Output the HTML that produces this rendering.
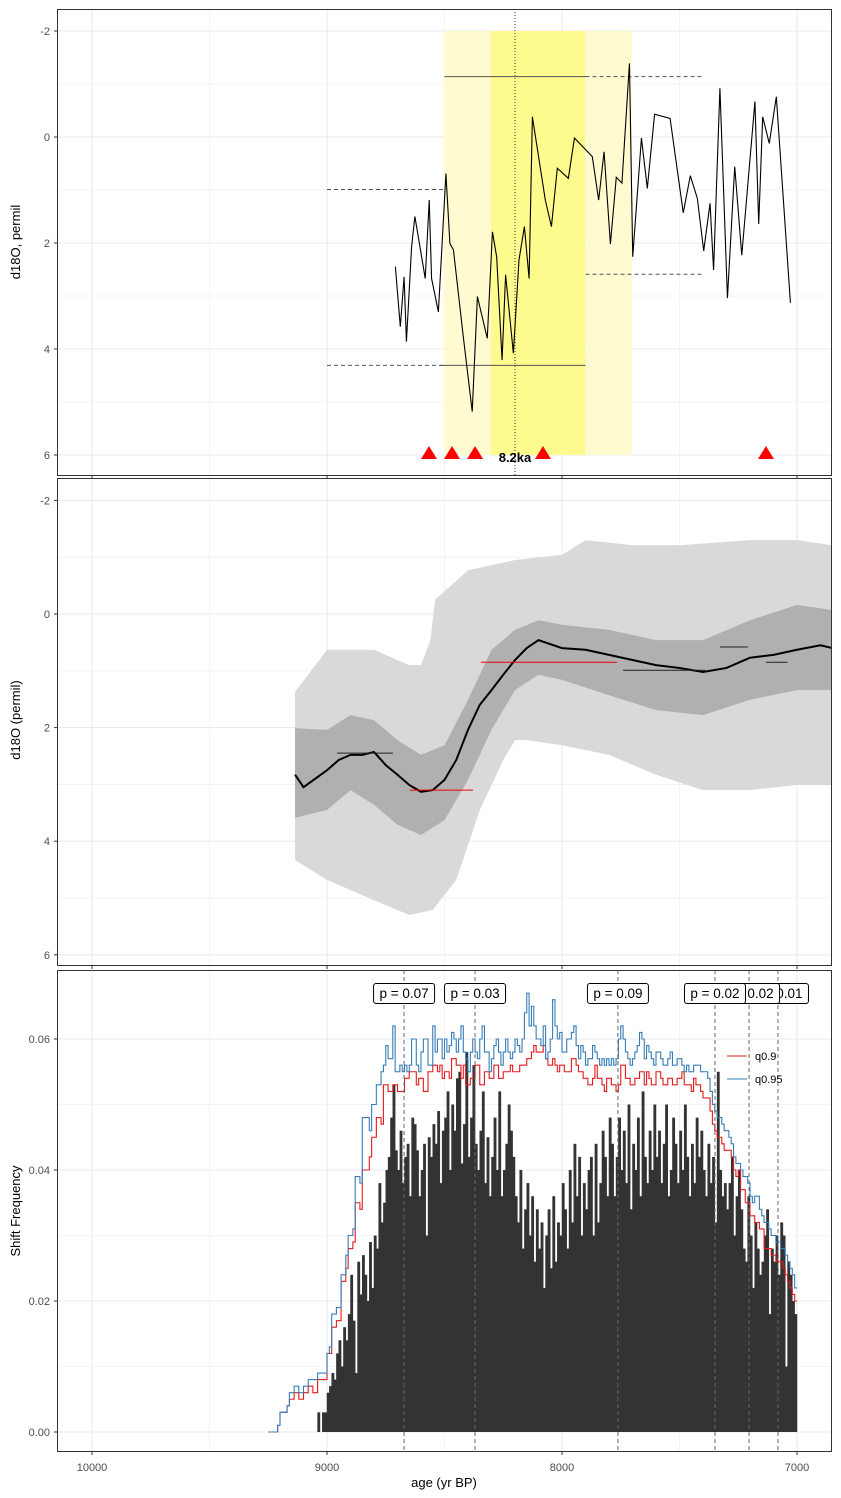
<!DOCTYPE html>
<html><head><meta charset="utf-8">
<style>
body{margin:0;background:#fff;}
svg{display:block;font-family:"Liberation Sans",sans-serif;}
</style></head>
<body>
<svg id="chart" width="841" height="1498" viewBox="0 0 841 1498" xmlns="http://www.w3.org/2000/svg"></svg>
<script>
// ---------- Panel 1 data ----------
const p1Ages = [8709,8688,8672,8662,8640,8626,8582,8565,8555,8526,8494,8477,8462,8420,8382,8360,8318,8296,8278,8255,8240,8207,8183,8160,8140,8126,8071,8045,8020,7973,7947,7871,7844,7821,7794,7769,7745,7713,7699,7662,7637,7606,7540,7484,7454,7424,7397,7370,7355,7328,7296,7265,7235,7179,7163,7146,7118,7088,7028];
const p1Values = [2.45,3.58,2.64,3.86,2.07,1.50,2.67,1.19,2.67,3.30,0.69,2.01,2.13,3.77,5.18,3.01,3.80,1.79,2.26,4.21,2.60,4.08,2.32,1.69,2.67,-0.38,1.19,1.69,0.59,0.78,0.02,0.37,1.19,0.28,2.02,0.76,0.87,-1.39,2.26,0.02,0.97,-0.43,-0.35,1.43,0.73,1.16,2.15,1.25,2.51,-0.92,3.04,0.56,2.23,-0.67,1.64,-0.38,0.12,-0.76,3.13];
const p1EventAges = [8566,8468,8370,8081,7132];
const p1Segments = [
 [9000,8500,0.99,false],[8500,7900,-1.14,true],[7900,7405,-1.14,false],
 [9000,8500,4.31,false],[8519,7900,4.31,true],[7900,7405,2.59,false]];
const p1YTicks = [-2,0,2,4,6];

// ---------- Panel 2 data ----------
const p2OuterAges = [9136,9000,8800,8650,8600,8560,8540,8400,8200,8000,7900,7700,7500,7200,7000,6850];
const p2OuterHi = [1.37,0.63,0.63,0.90,0.90,0.46,-0.25,-0.77,-0.95,-1.04,-1.30,-1.21,-1.21,-1.30,-1.30,-1.21];
const p2OuterLoAges = [9136,9000,8800,8650,8550,8450,8350,8250,8200,8150,8000,7800,7600,7400,7200,7000,6850];
const p2OuterLo = [4.33,4.68,5.04,5.30,5.21,4.68,3.45,2.57,2.22,2.22,2.31,2.48,2.83,3.10,3.10,3.01,3.01];
const p2InnerAges = [9136,9000,8900,8800,8700,8600,8500,8400,8300,8200,8100,8000,7800,7600,7400,7200,7000,6850];
const p2InnerHi = [2.01,2.04,1.78,1.87,2.22,2.48,2.31,1.51,0.63,0.28,0.11,0.19,0.28,0.46,0.46,0.11,-0.16,-0.07];
const p2InnerLo = [3.59,3.45,3.10,3.36,3.71,3.89,3.63,2.92,2.04,1.34,1.07,1.16,1.43,1.69,1.78,1.51,1.34,1.34];
const p2LineAges = [9136,9100,9000,8950,8900,8850,8800,8750,8700,8650,8600,8550,8500,8450,8400,8350,8300,8250,8200,8150,8100,8000,7900,7800,7700,7600,7500,7400,7300,7200,7100,7000,6900,6850];
const p2LineVals = [2.83,3.05,2.75,2.57,2.48,2.48,2.43,2.66,2.83,3.01,3.13,3.10,2.92,2.57,2.04,1.60,1.34,1.07,0.81,0.60,0.46,0.60,0.63,0.72,0.81,0.90,0.95,1.02,0.95,0.77,0.72,0.63,0.55,0.60];
const p2Segments = [[8957,8719,2.45,'#222'],[8647,8379,3.10,'#e00'],[8345,7766,0.85,'#e00'],[7740,7391,0.99,'#222'],[7328,7209,0.58,'#222'],[7132,7040,0.85,'#222']];

// ---------- Panel 3 data (10-yr bins from 9250 to 7000, thousandths) ----------
const binStart = 9250;
const barFreq = [0,0,0,0,0,0,0,0,0,0,0,0,0,0,0,0,0,0,0,0,0,3,0,3,3,
6,7,9,8,12,14,10,16,14,18, 24,17,9,26,21,27,24,20,29,22, 30,28,38,32,35,40,42,48,53,43,
40,46,38,42,44,36,48,47,43,36, 40,44,30,45,42,47,44,49,38,46, 48,52,40,50,46,54,55,41,47,58,
42,48,56,44,40,46,52,38,45,36, 42,48,40,52,36,40,44,50,46,42, 36,32,40,28,34,38,30,36,26,34,
28,32,22,30,34,25,36,26,32,30, 38,34,28,40,32,44,36,42,30,38, 34,40,42,30,44,32,38,46,42,36,
48,44,36,42,48,40,46,38,50,34, 44,40,48,36,52,42,38,46,40,50, 42,46,38,44,50,36,40,48,44,38,
46,40,50,42,36,44,38,48,42,46, 40,36,44,38,42,32,55,40,36,38, 34,38,42,30,36,40,34,28,26,36,
30,22,32,28,24,26,30,34,18,28, 26,30,24,32,30,10,26,24,20,18];
const q90 = [0,0,0,0,1,3,3,3,4,5,5,6,6,5,5,6,6,7,7,6,6,8,8,8,8,
12,12,16,16,17,17,23,23,25,28, 28,29,35,35,34,40,40,40,42,45, 45,48,48,47,53,53,52,52,53,53,
52,52,52,54,54,55,55,55,53,54, 54,52,52,55,55,56,56,55,56,54, 55,55,54,57,57,56,56,54,56,53,
53,54,54,56,56,53,53,55,55,54, 54,56,56,54,54,55,55,55,56,55, 55,55,56,56,56,57,57,58,59,58,
58,58,59,57,56,56,57,56,55,56, 56,55,55,55,57,57,56,55,55,54, 54,53,53,54,56,54,54,53,52,54,
54,53,53,52,53,56,56,54,54,53, 53,54,54,55,55,53,55,54,53,53, 55,55,54,53,53,54,54,53,53,54,
54,55,53,53,53,52,54,53,53,52, 51,51,51,49,47,46,45,45,44,43, 43,43,42,40,39,40,37,37,35,35,
33,33,32,32,31,31,28,28,28,27, 27,26,26,26,25,24,23,22,21,20];
const q95 = [0,0,0,0,1,3,3,3,4,6,6,7,7,6,6,7,7,8,8,8,8,9,9,9,9,
12,13,18,18,19,19,24,24,27,30, 30,31,39,39,38,48,48,48,46,50, 50,53,53,55,56,59,57,57,62,55,
55,56,55,56,55,56,60,60,56,55, 58,60,60,56,56,62,58,60,60,57, 60,58,59,61,60,58,60,62,58,57,
55,58,60,58,57,60,62,58,58,55, 57,59,60,58,56,58,60,58,57,58, 60,59,58,60,64,67,62,65,62,60,
60,59,62,57,58,60,66,62,60,61, 58,58,60,60,61,62,59,57,59,58, 56,57,57,59,58,57,56,57,56,57,
56,57,56,57,60,62,60,58,57,56, 57,58,59,61,60,57,59,58,57,56, 58,58,57,56,56,57,58,56,56,57,
57,56,55,56,55,55,56,56,56,55, 55,55,54,52,50,49,48,48,47,46, 46,45,44,42,41,41,40,39,39,38,
36,35,36,36,34,33,32,32,31,30, 30,29,29,28,28,27,26,25,24,22];
const shiftAges = [8672,8370,7762,7349,7204,7081];
const shiftLabels = ['p = 0.07','p = 0.03','p = 0.09','p = 0.02','p = 0.02','p = 0.01'];
const p3YTicks = [0,0.02,0.04,0.06];
const xTicks = [10000,9000,8000,7000];

// ---------- scales ----------
const PX = 0.235;
const X = a => 92 + (10000 - a) * PX;
const Y1 = d => 137 + d * 53;
const Y2 = d => 614 + d * 56.8;
const Y3 = f => 1432 - f * 6550;
const L = 57, R = 832;
const svg = document.getElementById('chart');
const NS = 'http://www.w3.org/2000/svg';
function mk(tag, attrs, parent) {
  const e = document.createElementNS(NS, tag);
  for (const k in attrs) e.setAttribute(k, attrs[k]);
  (parent || svg).appendChild(e);
  return e;
}
function txt(s, attrs, parent) { const e = mk('text', attrs, parent); e.textContent = s; return e; }

const panels = [[9,476],[478,966],[970,1452]];
panels.forEach((p, i) => {
  const g = mk('g', {});
  
  
  const cp = mk('clipPath', {id: 'clip' + i});
  mk('rect', {x: L, y: p[0], width: R - L, height: p[1] - p[0]}, cp);
  for (let a = 10000; a >= 7000; a -= 500) {
    mk('line', {x1: X(a), x2: X(a), y1: p[0], y2: p[1], stroke: '#ebebeb', 'stroke-width': a % 1000 ? 0.6 : 1.1}, g);
  }
});
for (let d = -2; d <= 6; d++) {
  mk('line', {x1: L, x2: R, y1: Y1(d), y2: Y1(d), stroke: '#ebebeb', 'stroke-width': d % 2 ? 0.6 : 1.1});
  mk('line', {x1: L, x2: R, y1: Y2(d), y2: Y2(d), stroke: '#ebebeb', 'stroke-width': d % 2 ? 0.6 : 1.1});
}
for (let f = 0; f <= 0.0651; f += 0.01) {
  const major = Math.round(f * 100) % 2 === 0;
  mk('line', {x1: L, x2: R, y1: Y3(f), y2: Y3(f), stroke: '#ebebeb', 'stroke-width': major ? 1.1 : 0.6});
}

// ---------- Panel 1 ----------
const g1 = mk('g', {'clip-path': 'url(#clip0)'});


const outerBox = mk('rect', {x: X(8502), y: Y1(-2), width: X(7703) - X(8502), height: Y1(6) - Y1(-2), fill: '#fffacd', 'fill-opacity': 0.95}, g1);


const innerBox = mk('rect', {x: X(8302), y: Y1(-2), width: X(7902) - X(8302), height: Y1(6) - Y1(-2), fill: '#fdfb8e'}, g1);


mk('line', {x1: X(8200), x2: X(8200), y1: 9, y2: 476, stroke: '#333', 'stroke-dasharray': '1,2', 'stroke-width': 1}, g1);
p1Segments.forEach(s => {
  const l = mk('line', {x1: X(s[0]), x2: X(s[1]), y1: Y1(s[2]), y2: Y1(s[2]), stroke: '#555', 'stroke-width': 1, 'stroke-dasharray': s[3] ? 'none' : '4,3'}, g1);
  
  
});
const l1 = mk('polyline', {points: p1Ages.map((a, i) => X(a) + ',' + Y1(p1Values[i])).join(' '), fill: 'none', stroke: '#000', 'stroke-width': 1.1}, g1);


p1EventAges.forEach(a => {
  const t = mk('polygon', {points: `${X(a)-8},459 ${X(a)+8},459 ${X(a)},446`, fill: '#ff0000'}, g1);
  
  
});
const lab82 = txt('8.2ka', {x: X(8200), y: 462, 'font-size': 13, 'font-weight': 'bold', 'text-anchor': 'middle'}, g1);


p1YTicks.forEach(d => {
  const t = txt(String(d), {x: 50, y: Y1(d) + 4, 'font-size': 11, fill: '#4d4d4d', 'text-anchor': 'end'});
  
  
});
const yl1 = txt('d18O, permil', {x: 0, y: 0, 'font-size': 13, 'text-anchor': 'middle', transform: 'translate(20,242) rotate(-90)'});



// ---------- Panel 2 ----------
const g2 = mk('g', {'clip-path': 'url(#clip1)'});


function ribbon(aHi, hi, aLo, lo, fill, name) {
  const pts = aHi.map((a, i) => X(a) + ',' + Y2(hi[i])).concat(aLo.map((a, i) => X(a) + ',' + Y2(lo[i])).reverse());
  const p = mk('polygon', {points: pts.join(' '), fill: fill}, g2);
  
  
}
ribbon(p2OuterAges, p2OuterHi, p2OuterLoAges, p2OuterLo, '#d9d9d9', 'outer-confidence-band');
ribbon(p2InnerAges, p2InnerHi, p2InnerAges, p2InnerLo, '#b0b0b0', 'inner-confidence-band');
const l2 = mk('polyline', {points: p2LineAges.map((a, i) => X(a) + ',' + Y2(p2LineVals[i])).join(' '), fill: 'none', stroke: '#000', 'stroke-width': 2}, g2);


p2Segments.forEach(s => {
  const l = mk('line', {x1: X(s[0]), x2: X(s[1]), y1: Y2(s[2]), y2: Y2(s[2]), stroke: s[3], 'stroke-width': 1}, g2);
  
  
});
p1YTicks.forEach(d => {
  const t = txt(String(d), {x: 50, y: Y2(d) + 4, 'font-size': 11, fill: '#4d4d4d', 'text-anchor': 'end'});
  
  
});
const yl2 = txt('d18O (permil)', {x: 0, y: 0, 'font-size': 13, 'text-anchor': 'middle', transform: 'translate(20,720) rotate(-90)'});



// ---------- Panel 3 ----------
const g3 = mk('g', {'clip-path': 'url(#clip2)'});


barFreq.forEach((v, i) => {
  if (!v) return;
  const a0 = binStart - i * 10;
  const b = mk('rect', {x: X(a0) - 0.25, y: Y3(v / 1000), width: 10 * PX + 0.5, height: Y3(0) - Y3(v / 1000), fill: '#333333'}, g3);
  
  
});
function stepLine(arr, color, name) {
  let pts = [];
  arr.forEach((v, i) => {
    const a0 = binStart - i * 10;
    pts.push(X(a0) + ',' + Y3(v / 1000));
    pts.push(X(a0 - 10) + ',' + Y3(v / 1000));
  });
  const p = mk('polyline', {points: pts.join(' '), fill: 'none', stroke: color, 'stroke-width': 1.1}, g3);
  
  
}
stepLine(q90, '#e41a1c', 'q90-line');
stepLine(q95, '#377eb8', 'q95-line');
shiftAges.forEach(a => {
  const l = mk('line', {x1: X(a), x2: X(a), y1: 970, y2: 1452, stroke: '#666', 'stroke-width': 1, 'stroke-dasharray': '4,3'}, g3);
  
  
});
for (let i = shiftAges.length - 1; i >= 0; i--) {
  const cx = X(shiftAges[i]);
  const gl = mk('g', {}, g3);
  
  
  mk('rect', {x: cx - 30.5, y: 983.5, width: 61, height: 20, rx: 2.5, fill: '#fff', stroke: '#000', 'stroke-width': 1}, gl);
  txt(shiftLabels[i], {x: cx, y: 998, 'font-size': 13.5, 'text-anchor': 'middle'}, gl);
}
const leg = mk('g', {});


mk('line', {x1: 727, x2: 747, y1: 1056, y2: 1056, stroke: '#e41a1c', 'stroke-width': 1}, leg);
txt('q0.9', {x: 755, y: 1060, 'font-size': 11}, leg);
mk('line', {x1: 727, x2: 747, y1: 1079, y2: 1079, stroke: '#377eb8', 'stroke-width': 1}, leg);
txt('q0.95', {x: 755, y: 1083, 'font-size': 11}, leg);
p3YTicks.forEach(f => {
  const t = txt(f.toFixed(2), {x: 50, y: Y3(f) + 4, 'font-size': 11, fill: '#4d4d4d', 'text-anchor': 'end'});
  
  
});
const yl3 = txt('Shift Frequency', {x: 0, y: 0, 'font-size': 13, 'text-anchor': 'middle', transform: 'translate(20,1211) rotate(-90)'});



// borders and ticks
panels.forEach((p, i) => {
  const r = mk('rect', {x: L + 0.5, y: p[0] + 0.5, width: R - L - 1, height: p[1] - p[0] - 1, fill: 'none', stroke: '#333', 'stroke-width': 1});
  
  
  xTicks.forEach(a => mk('line', {x1: X(a), x2: X(a), y1: p[1], y2: p[1] + 3, stroke: '#333'}));
});
[[p1YTicks, Y1], [p1YTicks, Y2]].forEach(([t, f]) => t.forEach(d => mk('line', {x1: 54, x2: 57, y1: f(d), y2: f(d), stroke: '#333'})));
p3YTicks.forEach(v => mk('line', {x1: 54, x2: 57, y1: Y3(v), y2: Y3(v), stroke: '#333'}));
xTicks.forEach(a => {
  const t = txt(String(a), {x: X(a), y: 1471, 'font-size': 11, fill: '#4d4d4d', 'text-anchor': 'middle'});
  
  
});
const xl = txt('age (yr BP)', {x: 444, y: 1487, 'font-size': 13, 'text-anchor': 'middle'});


</script>
</body></html>
